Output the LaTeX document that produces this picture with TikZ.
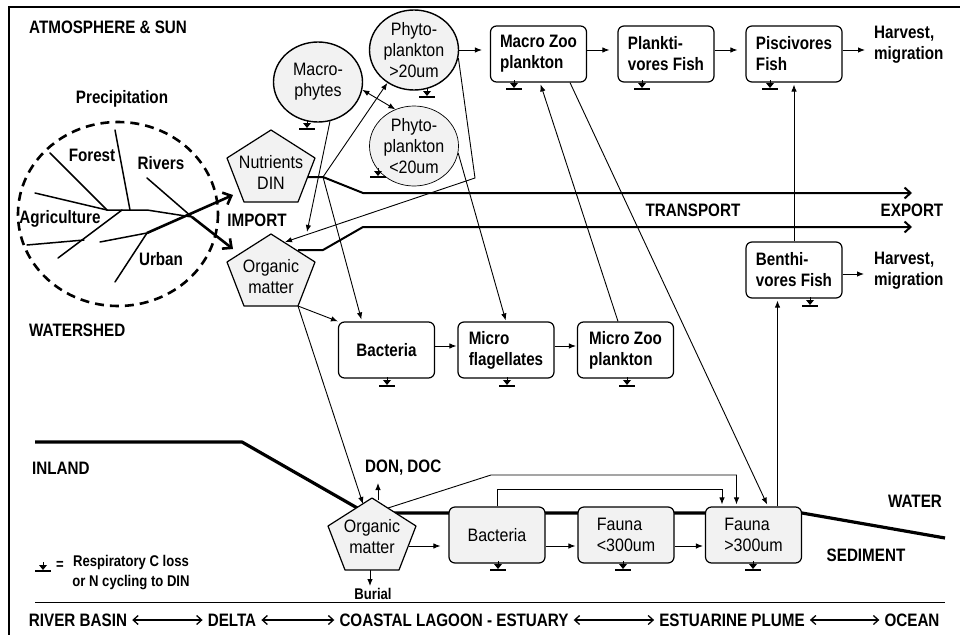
\documentclass[tikz,border=0pt]{standalone}
\usepackage{fontspec}
\newfontfamily\labfont{Liberation Sans}[FakeStretch=0.845]
\newfontfamily\shpfont{Liberation Sans}[FakeStretch=0.89]
\usetikzlibrary{arrows.meta,shapes.geometric}
\definecolor{shade}{gray}{0.95}

\tikzset{
  lab/.style={font=\labfont\bfseries\fontsize{18}{21}\selectfont, inner sep=0pt, align=center},
  smalllab/.style={font=\labfont\bfseries\fontsize{15.5}{20}\selectfont, inner sep=0pt, align=center},
  shptxt/.style={font=\shpfont\fontsize{18}{21}\selectfont, inner sep=0pt, align=center},
  box/.style={draw, line width=1.2pt, rounded corners=6pt, minimum width=96pt, minimum height=56pt,
    fill=white, inner sep=0pt, align=left, font=\labfont\bfseries\fontsize{18}{21}\selectfont},
  softbox/.style={box, fill=shade, font=\shpfont\fontsize{18}{21}\selectfont},
  blob/.style={draw, ellipse, fill=shade, line width=1.4pt, minimum width=89pt, minimum height=80pt,
    inner sep=-8pt, align=center, font=\shpfont\fontsize{18}{21}\selectfont},
  flow/.style={line width=0.9pt, -{Latex[length=7pt,width=5.5pt]}},
  twoway/.style={line width=0.9pt, {Latex[length=7pt,width=5.5pt]}-{Latex[length=7pt,width=5.5pt]}},
  transport/.style={line width=2pt, line join=round, -{Straight Barb[length=6pt,width=11pt]}},
  inflow/.style={line width=2.6pt, -{Straight Barb[length=7pt,width=13pt]}},
  branch/.style={line width=1.5pt, line cap=round},
  zone/.style={line width=1.3pt, {Straight Barb[length=5pt,width=9pt]}-{Straight Barb[length=5pt,width=9pt]},
    shorten <=5pt, shorten >=5pt},
  ground/.style={line width=3.2pt, line join=round},
  pent/.pic={\filldraw[fill=shade, line width=1.2pt, line join=round]
    (0,-36) -- (44,-8) -- (27,36) -- (-27,36) -- (-44,-8) -- cycle;},
  resp/.pic={\draw[line width=1.3pt] (-8,0) -- (8,0);
    \fill (-4,-6) -- (4,-6) -- (0,-1) -- cycle;
    \draw[line width=1pt] (0,-9) -- (0,-6);}
}

\begin{document}
\begin{tikzpicture}[x=1pt,y=-1pt]
\useasboundingbox (0,0) rectangle (960,634);

% outer frame (open towards right and bottom) and the zone rule
\draw[line width=2.2pt] (9,640) -- (9,7) -- (965,7);
\draw[line width=1pt] (35,602) -- (945,602);

% land surface and water / sediment interface
\draw[ground] (35,442) -- (242,442) -- (366,513) -- (802,513) -- (945,538);

% ---------------- watershed ----------------
\draw[line width=2.6pt, dash pattern=on 9pt off 6pt] (118,214) ellipse [x radius=100, y radius=92];
\coordinate (t1) at (107,210);
\coordinate (t2) at (130,210);
\coordinate (t3) at (147,210);
\coordinate (jn) at (192,217);
\coordinate (lb) at (147,233);
\coordinate (la) at (84,240);
\draw[branch] (50,153) -- (t1);
\draw[branch] (35,193) -- (t1);
\draw[branch] (t1) -- (t3) -- (jn);
\draw[branch] (t2) -- (115,130);
\draw[branch] (147,178) -- (jn);
\draw[branch] (58,258) -- (122,210);
\draw[branch] (27,245) -- (la);
\draw[branch] (100,242) -- (lb);
\draw[branch] (lb) -- (115,282);
\coordinate (nutIn) at (233,195);
\coordinate (omIn) at (233,249);
\draw[inflow] (lb) -- (nutIn);
\draw[inflow] (jn) -- (omIn);

% ---------------- labels ----------------
\node[lab, anchor=west] (atm) at (29,27) {ATMOSPHERE \& SUN};
\node[lab] (prec) at (122,99) {Precipitation};
\node[lab] (forest) at (92,155) {Forest};
\node[lab] (rivers) at (161,163) {Rivers};
\node[lab] (agri) at (60,219) {Agriculture};
\node[lab] (urban) at (161,259) {Urban};
\node[lab] (import) at (257,220) {IMPORT};
\node[lab, anchor=west] (wshed) at (29,330) {WATERSHED};
\node[lab] (transp) at (693,210) {TRANSPORT};
\node[lab] (export) at (912,210) {EXPORT};
\node[lab, anchor=west] (inland) at (32,468) {INLAND};
\node[lab, anchor=west] (don) at (365,468) {DON, DOC};
\node[lab] (water) at (915,501) {WATER};
\node[lab] (sed) at (866,555) {SEDIMENT};
\node[smalllab] (burial) at (373,594) {Burial};
\node[lab, anchor=west, align=left] (hv1) at (874,45) {Harvest,\\migration};
\node[lab, anchor=west, align=left] (hv2) at (874,271) {Harvest,\\migration};

% ---------------- transport ----------------
\coordinate (nutR) at (307,177);
\coordinate (nutJ) at (323,177);
\coordinate (omR) at (298,250);
\draw[transport] (nutR) -- (nutJ) -- (363,193) -- (912,193);
\draw[transport] (omR) -- (323,250) -- (363,227) -- (912,227);

% ---------------- compartments ----------------
\coordinate (omT) at (307,232);
\coordinate (omA) at (285,242);
\coordinate (omB) at (298,306);
\coordinate (om2L) at (363,504);
\coordinate (om2U) at (388,508);
\coordinate (om2R) at (409,546);
\coordinate (om2T) at (378,500);
\coordinate (donIn) at (378,483);
\coordinate (om2D) at (370,570);
\coordinate (burIn) at (370,586);

\node[blob] (mph) at (318,82) {Macro-\\phytes};
\node[blob] (p20) at (414,50) {Phyto-\\plankton\\>20um};
\node[blob, line width=0.7pt] (p2) at (414,146) {Phyto-\\plankton\\<20um};

\node[box] (mzp) at (538.5,54) {Macro Zoo\\plankton};
\node[box] (pvf) at (666,54) {Plankti-\\vores Fish};
\node[box] (pvs) at (794,54) {Piscivores\\Fish};
\node[box] (bvf) at (794,270) {Benthi-\\vores Fish};
\node[box, align=center] (bac) at (386.5,350) {Bacteria};
\node[box] (mfl) at (506,350) {Micro\\flagellates};
\node[box] (mcz) at (625.5,350) {Micro Zoo\\plankton};
\node[softbox, align=center] (bac2) at (497,535) {Bacteria};
\node[softbox] (fa1) at (626,535) {Fauna\\<300um};
\node[softbox] (fa2) at (753.5,535) {Fauna\\>300um};

% connectors of the water column
\draw[flow] (nutJ) -- (p20.-129);
\draw[flow, shorten >=2pt] (nutJ) -- ([xshift=24pt]bac.north west);
\draw[flow] (mph.-73) -- (omT);
\draw[flow] (p20.-10) -- (475,178) -- (omA);
\draw[twoway] (mph.-10) -- (p2.117);
\draw[flow] (omB) -- (om2L);
\draw[flow] (omB) -- (bac.north west);
\draw[flow, shorten >=1pt] (p2.-9) -- (mfl.north);

\pic at (271,166) {pent};
\node[shptxt] (nut) at (271,172) {Nutrients\\DIN};
\pic at (271,270) {pent};
\node[shptxt] (om) at (271,277) {Organic\\matter};
\pic at (372,534) {pent};
\node[shptxt] (om2) at (372,537) {Organic\\matter};

% food chain
\draw[flow, shorten >=8pt] (p20.east) -- ([yshift=4pt]mzp.west);
\draw[flow, shorten >=8pt] ([yshift=4pt]mzp.east) -- ([yshift=4pt]pvf.west);
\draw[flow, shorten >=8pt] ([yshift=4pt]pvf.east) -- ([yshift=4pt]pvs.west);
\draw[flow, shorten >=9pt] ([yshift=4pt]pvs.east) -- ([yshift=4pt]pvs.east -| hv1.west);
\draw[flow, shorten >=10pt] ([yshift=-4pt]bvf.east) -- ([yshift=-4pt]bvf.east -| hv2.west);
\draw[flow, shorten >=1pt] ([yshift=4pt]bac.east) -- ([yshift=4pt]mfl.west);
\draw[flow, shorten >=1pt] ([yshift=4pt]mfl.east) -- ([yshift=4pt]mcz.west);
\draw[flow, shorten >=2pt] ([xshift=-7.5pt]mcz.north) -- ([xshift=1.5pt]mzp.south);
\draw[flow, shorten >=2pt] ([xshift=31.5pt]mzp.south) -- ([xshift=14.5pt]fa2.north);
\draw[flow, shorten >=2pt] (bvf.north) -- (pvs.south);
\draw[flow, shorten >=2pt] ([xshift=24pt]fa2.north) -- ([xshift=24pt]fa2.north |- bvf.south);

% benthic chain
\draw[flow, shorten >=8pt] (om2R) -- ([yshift=-11pt]bac2.west);
\draw[flow, shorten >=2pt] ([yshift=-11pt]bac2.east) -- ([yshift=-11pt]fa1.west);
\draw[flow, shorten >=2pt] ([yshift=-11pt]fa1.east) -- ([yshift=-11pt]fa2.west);
\draw[flow, shorten >=2pt] (bac2.north) -- ++(0,-17) -| ([xshift=-31.5pt]fa2.north);
\draw[flow, shorten >=2pt] (om2U) -- (491,475) -| ([xshift=-17pt]fa2.north);
\draw[flow] (om2T) -- (donIn);
\draw[flow] (om2D) -- (burIn);

% respiration / recycling marks
\foreach \p in {(307,129),(427,97),(378,177),(514,89),(642,89),(770,89),
                (387,386),(507,386),(627,386),(810,306),
                (498,570),(623,570),(753,570),(43,571)}
  \pic at \p {resp};

% legend
\node[smalllab] (eq) at (60,565) {=};
\node[smalllab] (leg) at (131,573) {Respiratory C loss\\or N cycling to DIN};

% zones along the coast
\node[lab] (rb) at (78,620) {RIVER BASIN};
\node[lab] (dl) at (232,620) {DELTA};
\node[lab] (cl) at (454,620) {COASTAL LAGOON - ESTUARY};
\node[lab] (ep) at (732,620) {ESTUARINE PLUME};
\node[lab] (oc) at (912,620) {OCEAN};
\draw[zone] (rb.east) -- (dl.west);
\draw[zone] (dl.east) -- (cl.west);
\draw[zone] (cl.east) -- (ep.west);
\draw[zone] (ep.east) -- (oc.west);
\end{tikzpicture}
\end{document}
